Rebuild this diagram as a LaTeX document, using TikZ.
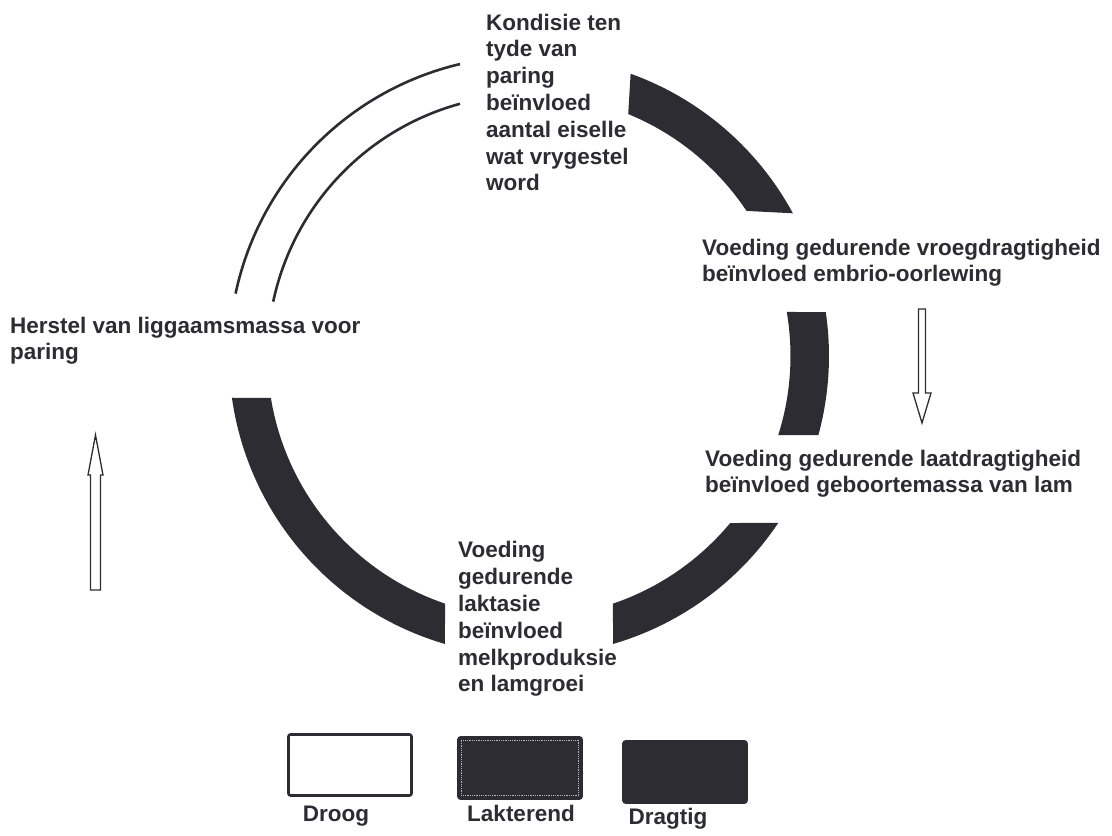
\documentclass[tikz,border=0pt]{standalone}
\usepackage{fontspec}
\setmainfont{Liberation Sans}
\usepackage{tikz}
\usetikzlibrary{calc}
\definecolor{ink}{RGB}{44,44,50}
\tikzstyle{band} = [fill=ink]
\tikzstyle{droogline} = [draw=ink, line width=2.6pt]
\tikzstyle{blockarrow} = [draw=ink, line width=1.3pt, fill=white, line join=miter]
\tikzstyle{info} = [font=\bfseries\fontsize{22.5}{26.8}\selectfont, text=ink, align=left, inner sep=0pt, anchor=base west]
\tikzstyle{legendbox} = [draw=ink, line width=2.6pt, minimum width=123pt, minimum height=61pt, inner sep=0pt, rounded corners=2pt]
\tikzstyle{legendtext} = [font=\bfseries\fontsize{22.5}{26.8}\selectfont, text=ink, inner sep=0pt, anchor=base]

\begin{document}
\begin{tikzpicture}[x=1pt, y=1pt]
    \useasboundingbox (0,0) rectangle (1112,836);

    % The ring: centre and radii
    \def\Ro{300};
    \def\Ri{261.5};
    \coordinate (C) at (529,480);

    % Dark bands (dragtig and lakterend)
    \foreach \aa/\ab/\bb/\ba in {70.2/28.4/33.7/67.7, 8.4/-15.3/-17.6/9.7, -33.8/-73.7/-71.3/-39.7, 188/253.7/251.3/189.2}
        \fill[band] (C) ++(\aa:\Ro) arc[start angle=\aa, end angle=\ab, radius=\Ro] -- ($(C)+(\bb:\Ri)$) arc[start angle=\bb, end angle=\ba, radius=\Ri] -- cycle;

    % Droog part, only the two edges
    \foreach \r/\a in {\Ro/103.3, \Ri/105.3}
        \draw[droogline] (C) ++(\a:\r) arc[start angle=\a, end angle=168, radius=\r];

    % Texts round the ring (placed by the baseline of their last line)
    \node[info] (kondisie) at (486,645) {Kondisie ten\\tyde van\\paring\\beïnvloed\\aantal eiselle\\wat vrygestel\\word};
    \node[info] (vroeg) at (702,554) {Voeding gedurende vroegdragtigheid\\beïnvloed embrio-oorlewing};
    \node[info] (laat) at (705,343) {Voeding gedurende laatdragtigheid\\beïnvloed geboortemassa van lam};
    \node[info] (laktasie) at (458,144) {Voeding\\gedurende\\laktasie\\beïnvloed\\melkproduksie\\en lamgroei};
    \node[info] (herstel) at (10,476) {Herstel van liggaamsmassa voor\\paring};

    % Hollow arrows
    \def\dx{95.5};
    \draw[blockarrow] (-5+\dx,246) -- (-5+\dx,361) -- (-7.5+\dx,361) -- (0+\dx,401) -- (7.5+\dx,361) -- (5+\dx,361) -- (5+\dx,246) -- cycle;
    \def\dx{922};
    \draw[blockarrow] (-3.5+\dx,527) -- (-3.5+\dx,443) -- (-9+\dx,443) -- (0+\dx,413) -- (9+\dx,443) -- (3.5+\dx,443) -- (3.5+\dx,527) -- cycle;

    % Legend
    \node[legendbox, fill=white] (droog) at (350,71) {};
    \node[legendbox, fill=ink] (lakterend) at (520,68) {};
    \node[legendbox, fill=ink] (dragtig) at (685,64) {};
    \draw[white!65!ink, densely dotted, line width=0.8pt] ($(lakterend.south west)+(4,4)$) rectangle ($(lakterend.north east)-(4,4)$);

    \node[legendtext] (droogtxt) at (336,14) {Droog};
    \node[legendtext] (lakterendtxt) at (521,14) {Lakterend};
    \node[legendtext] (dragtigtxt) at (668,11) {Dragtig};

\end{tikzpicture}
\end{document}
